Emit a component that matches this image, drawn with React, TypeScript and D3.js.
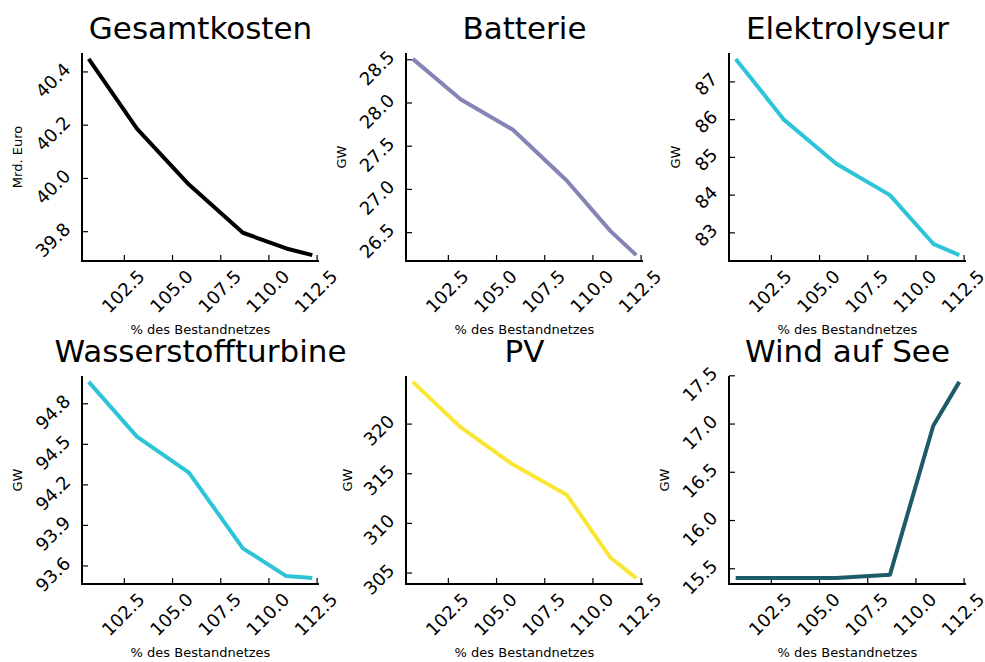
import React, { useEffect, useRef } from 'react';
import * as d3 from 'd3';

// x axis: share of existing grid (%)
const xValues = [100.65, 103.15, 105.85, 108.65, 110.9, 112.25];
const xTickLabels = ['102.5', '105.0', '107.5', '110.0', '112.5'];

const titles = ['Gesamtkosten', 'Batterie', 'Elektrolyseur', 'Wasserstoffturbine', 'PV', 'Wind auf See'];
const yLabels = ['Mrd. Euro', 'GW', 'GW', 'GW', 'GW', 'GW'];
const colors = ['#000000', '#8585b5', '#2ec4d8', '#2ec4d8', '#fae634', '#1f5a6b'];

const gesamtkosten = [40.449, 40.187, 39.977, 39.796, 39.737, 39.712];
const batterie = [28.51, 28.04, 27.69, 27.1, 26.52, 26.24];
const elektrolyseur = [87.61, 86.0, 84.84, 84.0, 82.71, 82.41];
const wasserstoffturbine = [94.962, 94.557, 94.29, 93.73, 93.525, 93.51];
const pv = [324.25, 319.66, 315.92, 312.86, 306.57, 304.49];
const windAufSee = [15.403, 15.403, 15.405, 15.437, 16.983, 17.437];

const yTicks1 = ['39.8', '40.0', '40.2', '40.4'];
const yTicks2 = ['26.5', '27.0', '27.5', '28.0', '28.5'];
const yTicks3 = ['83', '84', '85', '86', '87'];
const yTicks4 = ['93.6', '93.9', '94.2', '94.5', '94.8'];
const yTicks5 = ['305', '310', '315', '320'];
const yTicks6 = ['15.5', '16.0', '16.5', '17.0', '17.5'];

const series = [gesamtkosten, batterie, elektrolyseur, wasserstoffturbine, pv, windAufSee];
const yTicks = [yTicks1, yTicks2, yTicks3, yTicks4, yTicks5, yTicks6];

const W = 985;
const H = 662;
const font = 'DejaVu Sans, sans-serif';

// widen extent by 3% each side, like the plotting lib does
const widen = (vals: number[]) => {
  const [lo, hi] = d3.extent(vals) as [number, number];
  const pad = (hi - lo) * 0.03;
  return [lo - pad, hi + pad];
};

const App = () => {
  const ref = useRef<SVGSVGElement>(null);

  useEffect(() => {
    const svg = d3.select(ref.current);
    svg.selectAll('*').remove();

    const colLeft = [82, 406, 729];
    const rowTop = [53, 376];
    const pw = 237;
    const ph = 208;

    series.forEach((vals, i) => {
      const left = colLeft[i % 3];
      const top = rowTop[Math.floor(i / 3)];
      const bottom = top + ph;
      const right = left + pw;

      const x = d3.scaleLinear().domain(widen(xValues)).range([left, right]);
      const y = d3.scaleLinear().domain(widen(vals)).range([bottom, top]);

      const g = svg.append('g');

      // title
      g.append('text')
        .attr('x', left + pw / 2)
        .attr('y', top - 14)
        .attr('text-anchor', 'middle')
        .style('font-family', font)
        .style('font-size', '31px')
        .text(titles[i]);

      // x ticks (inward) and rotated labels
      xTickLabels.forEach(t => {
        const tx = x(+t);
        g.append('line')
          .attr('x1', tx).attr('x2', tx)
          .attr('y1', bottom).attr('y2', bottom - 6)
          .attr('stroke', '#000').attr('stroke-width', 1.2);
        g.append('text')
          .attr('transform', `translate(${tx + 17},${bottom + 12}) rotate(-45)`)
          .attr('text-anchor', 'end')
          .attr('dominant-baseline', 'central')
          .style('font-family', font)
          .style('font-size', '18px')
          .text(t);
      });

      // y ticks (inward) and rotated labels
      yTicks[i].forEach(t => {
        const ty = y(+t);
        g.append('line')
          .attr('x1', left).attr('x2', left + 6)
          .attr('y1', ty).attr('y2', ty)
          .attr('stroke', '#000').attr('stroke-width', 1.2);
        g.append('text')
          .attr('transform', `translate(${left - 15},${ty - 6}) rotate(-45)`)
          .attr('text-anchor', 'end')
          .attr('dominant-baseline', 'central')
          .style('font-family', font)
          .style('font-size', '18px')
          .text(t);
      });

      // axis lines
      g.append('path')
        .attr('d', `M${left},${top}V${bottom}H${right}`)
        .attr('fill', 'none')
        .attr('stroke', '#000')
        .attr('stroke-width', 2);

      // data line
      const line = d3.line<number>()
        .x((d, j) => x(xValues[j]))
        .y(d => y(d));
      g.append('path')
        .datum(vals)
        .attr('fill', 'none')
        .attr('stroke', colors[i])
        .attr('stroke-width', 4)
        .attr('stroke-linejoin', 'round')
        .attr('d', line);

      // axis labels
      g.append('text')
        .attr('x', left + pw / 2)
        .attr('y', bottom + 73)
        .attr('text-anchor', 'middle')
        .style('font-family', font)
        .style('font-size', '13px')
        .text('% des Bestandnetzes');

      const maxChars = d3.max(yTicks[i], t => t.length) as number;
      g.append('text')
        .attr('transform', `translate(${left - (38 + 5.5 * maxChars)},${top + ph / 2}) rotate(-90)`)
        .attr('text-anchor', 'middle')
        .style('font-family', font)
        .style('font-size', '13px')
        .text(yLabels[i]);
    });
  }, []);

  return (
    <svg ref={ref} width={W} height={H} style={{ position: 'absolute', left: 0, top: 0, background: '#fff' }}></svg>
  );
};

export default App;
